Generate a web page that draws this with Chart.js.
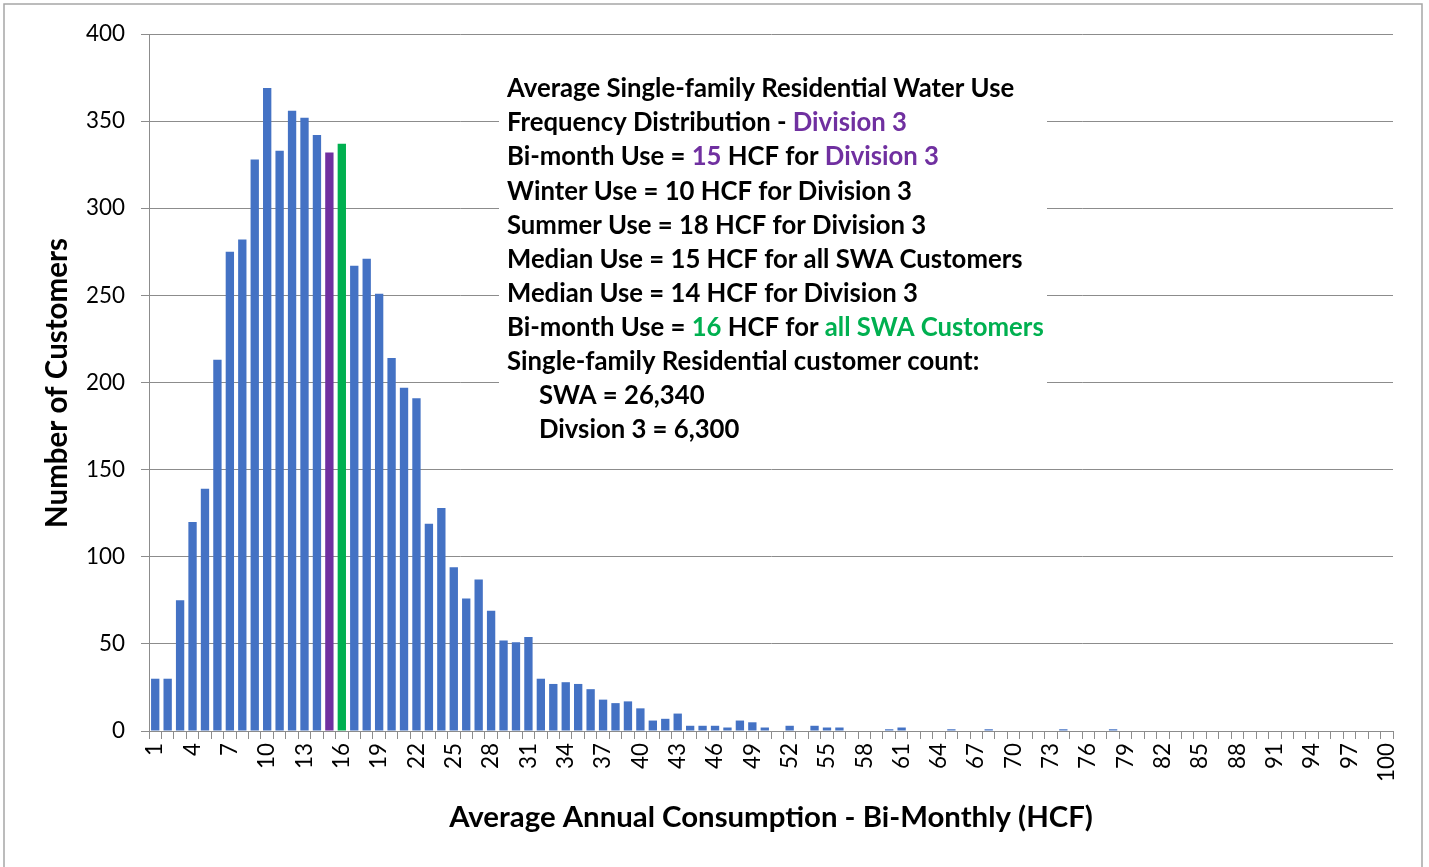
<!DOCTYPE html>
<html>
<head>
<meta charset="utf-8" />
<script src="https://cdn.jsdelivr.net/npm/chart.js@4.4.1/dist/chart.umd.min.js"></script>
<style>
  html, body { margin:0; padding:0; background:#fff; overflow:hidden; }
  #wrap { width:1429px; height:867px; }
</style>
</head>
<body>
<div id="wrap"><canvas id="histChart" width="1429" height="867"></canvas></div>
<script>
// bi-monthly HCF buckets 1..100
const CATEGORIES = Array.from({ length: 100 }, (_, i) => String(i + 1));
const CUSTOMERS = [
  30, 30, 75, 120, 139, 213, 275, 282, 328, 369,
  333, 356, 352, 342, 332, 337, 267, 271, 251, 214,
  197, 191, 119, 128, 94, 76, 87, 69, 52, 51,
  54, 30, 27, 28, 27, 24, 18, 16, 17, 13,
  6, 7, 10, 3, 3, 3, 2, 6, 5, 2,
  0, 3, 0, 3, 2, 2, 0, 0, 0, 1,
  2, 0, 0, 0, 1, 0, 0, 1, 0, 0,
  0, 0, 0, 1, 0, 0, 0, 1, 0, 0,
  0, 0, 0, 0, 0, 0, 0, 0, 0, 0,
  0, 0, 0, 0, 0, 0, 0, 0, 0, 0
];
const Y_MIN = 0, Y_MAX = 400, Y_STEP = 50;
const DIV3_BUCKET = '15';   // purple
const ALL_BUCKET = '16';    // green

const BLUE = '#4472C4', PURPLE = '#7030A0', GREEN = '#00B050';
const FONT = 'Lato, "Open Sans", sans-serif';

const Y_TITLE = 'Number of Customers';
const X_TITLE = 'Average Annual Consumption - Bi-Monthly (HCF)';

// note lines: [indent, [text, colour]...]
const NOTE_LINES = [
  [0, [['Average Single-family Residential Water Use', '#000']]],
  [0, [['Frequency Distribution - ', '#000'], ['Division 3', PURPLE]]],
  [0, [['Bi-month Use = ', '#000'], ['15', PURPLE], [' HCF for ', '#000'], ['Division 3', PURPLE]]],
  [0, [['Winter Use = 10 HCF for Division 3', '#000']]],
  [0, [['Summer Use = 18 HCF for Division 3', '#000']]],
  [0, [['Median Use = 15 HCF for all SWA Customers', '#000']]],
  [0, [['Median Use = 14 HCF for Division 3', '#000']]],
  [0, [['Bi-month Use = ', '#000'], ['16', GREEN], [' HCF for ', '#000'], ['all SWA Customers', GREEN]]],
  [0, [['Single-family Residential customer count:', '#000']]],
  [1, [['SWA = 26,340', '#000']]],
  [1, [['Divsion 3 = 6,300', '#000']]]
];

// size fonts so the substitute face takes the same width as the original
const mctx = document.createElement('canvas').getContext('2d');
function fitSize(text, weight, target) {
  mctx.font = weight + ' 100px ' + FONT;
  return 100 * target / mctx.measureText(text).width;
}
const tickSize = fitSize('400', 'normal', 39);
const yTitleSize = fitSize(Y_TITLE, 'bold', 290);
const xTitleSize = fitSize(X_TITLE, 'bold', 644);
const noteSize = (fitSize('Average Single-family Residential Water Use', 'bold', 516) +
  fitSize('Median Use = 15 HCF for all SWA Customers', 'bold', 512) +
  fitSize('Bi-month Use = 16 HCF for all SWA Customers', 'bold', 532)) / 3;

const barColors = CATEGORIES.map(c => c === DIV3_BUCKET ? PURPLE : (c === ALL_BUCKET ? GREEN : BLUE));

const frame = {
  id: 'frame',
  beforeDraw(chart) {
    const ctx = chart.ctx;
    ctx.save();
    ctx.fillStyle = '#fff';
    ctx.fillRect(0, 0, chart.width, chart.height);
    ctx.strokeStyle = '#a6a6a6';
    ctx.lineWidth = 1.5;
    ctx.strokeRect(4, 4, 1418, 900);
    ctx.restore();
  },
  afterDraw(chart) {
    const ctx = chart.ctx;
    ctx.save();
    // axis titles
    ctx.fillStyle = '#000';
    ctx.textAlign = 'center';
    ctx.textBaseline = 'middle';
    ctx.font = 'bold ' + xTitleSize + 'px ' + FONT;
    ctx.fillText(X_TITLE, 771, 818);
    ctx.translate(57, 383);
    ctx.rotate(-Math.PI / 2);
    ctx.font = 'bold ' + yTitleSize + 'px ' + FONT;
    ctx.fillText(Y_TITLE, 0, 0);
    ctx.restore();

    // note box
    ctx.save();
    ctx.fillStyle = '#fff';
    ctx.fillRect(499, 66, 548, 390);
    ctx.font = 'bold ' + noteSize + 'px ' + FONT;
    ctx.textAlign = 'left';
    ctx.textBaseline = 'middle';
    NOTE_LINES.forEach((line, i) => {
      let x = line[0] ? 539 : 507;
      const y = 89 + i * 34.1;
      line[1].forEach(([t, c]) => {
        ctx.fillStyle = c;
        ctx.fillText(t, x, y);
        x += ctx.measureText(t).width;
      });
    });
    ctx.restore();
  }
};

new Chart(document.getElementById('histChart').getContext('2d'), {
  type: 'bar',
  data: {
    labels: CATEGORIES,
    datasets: [{
      data: CUSTOMERS,
      backgroundColor: barColors,
      borderWidth: 0,
      barPercentage: 0.67,
      categoryPercentage: 1
    }]
  },
  options: {
    responsive: false,
    animation: false,
    layout: { padding: { top: 34, right: 36, bottom: 0, left: 0 } },
    plugins: { legend: { display: false }, tooltip: { enabled: false } },
    scales: {
      x: {
        offset: true,
        grid: { offset: true, drawOnChartArea: false, drawTicks: true, tickLength: 8, color: '#8c8c8c', lineWidth: 1 },
        border: { display: true, color: '#8c8c8c', width: 1 },
        ticks: {
          autoSkip: false, minRotation: 90, maxRotation: 90, padding: 4,
          color: '#000', font: { family: FONT, size: tickSize },
          callback: (v, i) => (i % 3 === 0 ? CATEGORIES[i] : '')
        },
        afterFit: s => { s.height = 136; }
      },
      y: {
        min: Y_MIN, max: Y_MAX,
        grid: { color: '#8c8c8c', lineWidth: 1, tickLength: 8 },
        border: { display: true, color: '#8c8c8c', width: 1 },
        ticks: { stepSize: Y_STEP, padding: 16, color: '#000', font: { family: FONT, size: tickSize } },
        afterFit: s => { s.width = 149; }
      }
    }
  },
  plugins: [frame]
});
</script>
</body>
</html>
